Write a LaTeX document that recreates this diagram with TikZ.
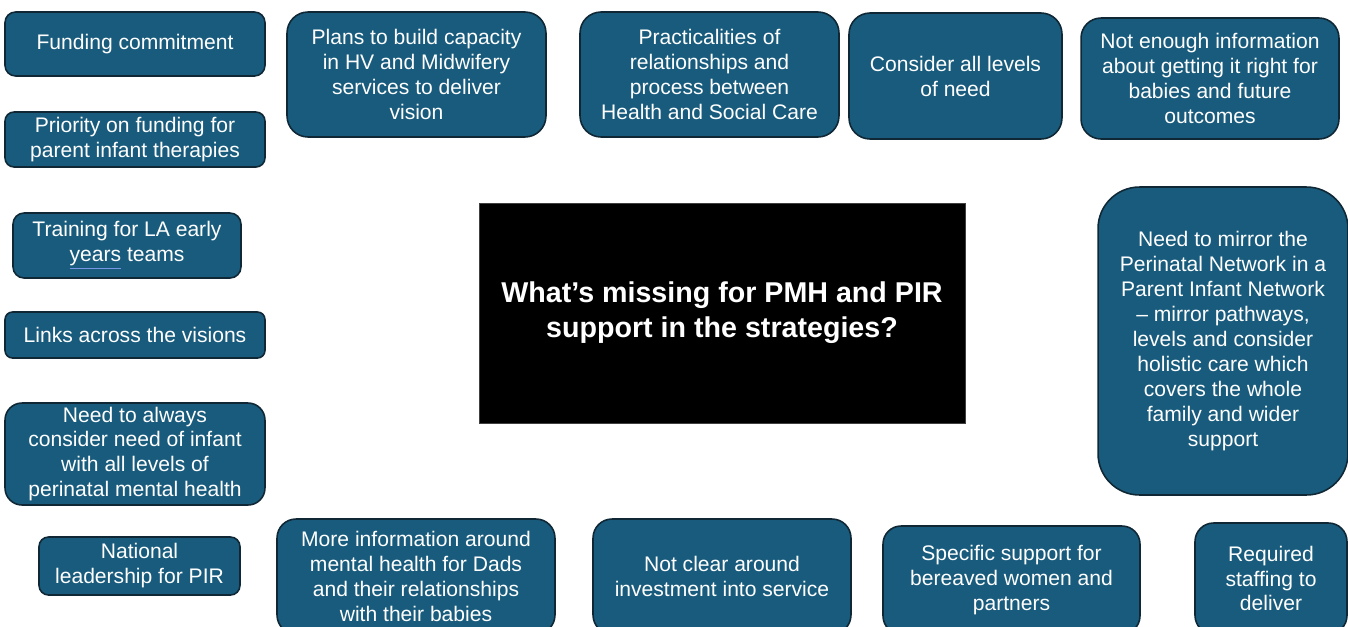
\documentclass[tikz,border=0pt]{standalone}
\usepackage{fontspec}
\setmainfont{Liberation Sans}

\definecolor{cardfill}{RGB}{24,91,124}
\definecolor{cardline}{RGB}{16,40,54}
\definecolor{marklink}{RGB}{120,150,230}

\newcommand{\markword}[1]{\textcolor{marklink}{\underline{\textcolor{white}{#1}}}}

\tikzset{card/.style={draw=cardline,fill=cardfill,line width=0.9pt,text=white,align=center,inner sep=0pt,font=\fontsize{12}{14.2}\selectfont},
question/.style={draw=black!75,fill=black,text=white,align=center,inner sep=0pt,font=\fontsize{16.3}{20}\selectfont\bfseries}}

\begin{document}
\begin{tikzpicture}[x=0.02cm,y=-0.02cm]
\useasboundingbox (0,0) rectangle (1348,626);
\clip (0,0) rectangle (1348,626);

%% question in the middle
\node [question,minimum width=9.72cm,minimum height=4.4cm] (q) at (722,313) {What's missing for PMH and PIR\\support in the strategies?};

%% top row
\node [card,minimum width=5.2cm,minimum height=1.28cm,rounded corners=0.21cm] (fund) at (135,44) {Funding commitment};
\node [card,minimum width=5.18cm,minimum height=2.5cm,rounded corners=0.42cm] (plans) at (416.5,74.5) {Plans to build capacity\\in HV and Midwifery\\services to deliver\\vision};
\node [card,minimum width=5.18cm,minimum height=2.5cm,rounded corners=0.42cm] (pract) at (709.5,74.5) {Practicalities of\\relationships and\\process between\\Health and Social Care};
\node [card,minimum width=4.26cm,minimum height=2.52cm,rounded corners=0.42cm] (levels) at (955.5,76) {Consider all levels\\of need};
\node [card,minimum width=5.16cm,minimum height=2.42cm,rounded corners=0.4cm] (info) at (1210,78.5) {Not enough information\\about getting it right for\\babies and future\\outcomes};

%% left column
\node [card,minimum width=5.2cm,minimum height=1.1cm,rounded corners=0.18cm] (prio) at (135,139.5) {Priority on funding for\\parent infant therapies};
\node [card,minimum width=4.56cm,minimum height=1.3cm,rounded corners=0.22cm] (train) at (127,245.5) {Training for LA early\\\markword{years} teams};
\node [card,minimum width=5.2cm,minimum height=0.92cm,rounded corners=0.15cm] (links) at (135,335) {Links across the visions};
\node [card,minimum width=5.2cm,minimum height=2.04cm,rounded corners=0.34cm] (always) at (135,454) {Need to always\\consider need of infant\\with all levels of\\perinatal mental health};

%% right column
\node [card,minimum width=5cm,minimum height=6.16cm,rounded corners=0.83cm] (mirror) at (1223,341) {Need to mirror the\\Perinatal Network in a\\Parent Infant Network\\-- mirror pathways,\\levels and consider\\holistic care which\\covers the whole\\family and wider\\support};

%% bottom row
\node [card,minimum width=4.02cm,minimum height=1.16cm,rounded corners=0.19cm] (lead) at (139.5,566) {National\\leadership for PIR};
\node [card,minimum width=5.56cm,minimum height=2.3cm,rounded corners=0.38cm] (dads) at (416,576.5) {More information around\\mental health for Dads\\and their relationships\\with their babies};
\node [card,minimum width=5.16cm,minimum height=2.3cm,rounded corners=0.38cm] (invest) at (722,576.5) {Not clear around\\investment into service};
\node [card,minimum width=5.14cm,minimum height=2.16cm,rounded corners=0.36cm] (bereaved) at (1011.5,580) {Specific support for\\bereaved women and\\partners};
\node [card,minimum width=3.04cm,minimum height=2.22cm,rounded corners=0.37cm] (staff) at (1271,578.5) {Required\\staffing to\\deliver};

\end{tikzpicture}
\end{document}
